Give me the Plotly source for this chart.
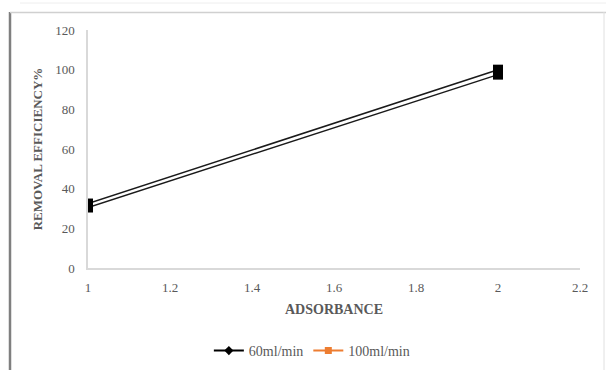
import plotly.graph_objects as go

absorbance = [1, 2]
eff_60 = [30.5, 97.5]
eff_100 = [32.5, 100.0]
series_names = ["60ml/min", "100ml/min"]
x_ticks = [1, 1.2, 1.4, 1.6, 1.8, 2, 2.2]
x_tick_text = ["1", "1.2", "1.4", "1.6", "1.8", "2", "2.2"]
y_ticks = [0, 20, 40, 60, 80, 100, 120]

W, H = 606, 370
L, R, T, B = 88, 26, 30, 102
pw, ph = W - L - R, H - T - B

def px(x):
    return (x - L) / pw

def py(y):
    return (H - B - y) / ph

fig = go.Figure()
for ys in (eff_60, eff_100):
    fig.add_trace(go.Scatter(
        x=absorbance, y=ys, mode="lines+markers", showlegend=False,
        line=dict(color="#1a1a1a", width=1.5),
        marker=dict(symbol="square", size=10, color="#000000"),
    ))
# legend entries
fig.add_trace(go.Scatter(
    x=[None], y=[None], mode="lines+markers", name=series_names[0],
    line=dict(color="#000000", width=2),
    marker=dict(symbol="diamond", size=7, color="#000000"),
))
fig.add_trace(go.Scatter(
    x=[None], y=[None], mode="lines+markers", name=series_names[1],
    line=dict(color="#ED7D31", width=2),
    marker=dict(symbol="square", size=7, color="#ED7D31"),
))

serif = "Liberation Serif"
fig.update_layout(
    width=W, height=H,
    margin=dict(l=L, r=R, t=T, b=B, autoexpand=False),
    paper_bgcolor="white", plot_bgcolor="white",
    font=dict(family=serif, color="#595959", size=12),
    xaxis=dict(
        range=[1, 2.2], tickvals=x_ticks, ticktext=x_tick_text, automargin=False,
        showgrid=False, zeroline=False, showline=True, linecolor="#d9d9d9", linewidth=1.5,
        ticks="", ticklabelstandoff=7, tickfont=dict(family=serif, size=13, color="#595959"),
        title=dict(text="<b>ADSORBANCE</b>", font=dict(family=serif, size=14, color="#595959"), standoff=10),
    ),
    yaxis=dict(
        range=[0, 120], tickvals=y_ticks, automargin=False,
        showgrid=False, zeroline=False, showline=True, linecolor="#d9d9d9", linewidth=1.5,
        ticks="", ticklabelstandoff=9, tickfont=dict(family=serif, size=13, color="#595959"),
        title=dict(text="<b>REMOVAL EFFICIENCY%</b>", font=dict(family=serif, size=13, color="#595959"), standoff=10),
    ),
    legend=dict(orientation="h", x=0.455, xanchor="center",
                yref="container", y=1 - 351 / H, yanchor="middle",
                font=dict(family=serif, size=14, color="#595959")),
    shapes=[
        dict(type="line", xref="paper", yref="paper", x0=px(10), x1=px(10), y0=py(12), y1=py(370),
             line=dict(color="#7f7f7f", width=2.5)),
        dict(type="line", xref="paper", yref="paper", x0=px(10), x1=px(606), y0=py(12.5), y1=py(12.5),
             line=dict(color="#d0d0d0", width=1.5)),
        dict(type="line", xref="paper", yref="paper", x0=px(20), x1=px(606), y0=py(3), y1=py(3),
             line=dict(color="#eeeeee", width=1)),
        dict(type="line", xref="paper", yref="paper", x0=px(604), x1=px(604), y0=py(12), y1=py(370),
             line=dict(color="#e0e0e0", width=1)),
    ],
)

fig.write_html("out.html")
